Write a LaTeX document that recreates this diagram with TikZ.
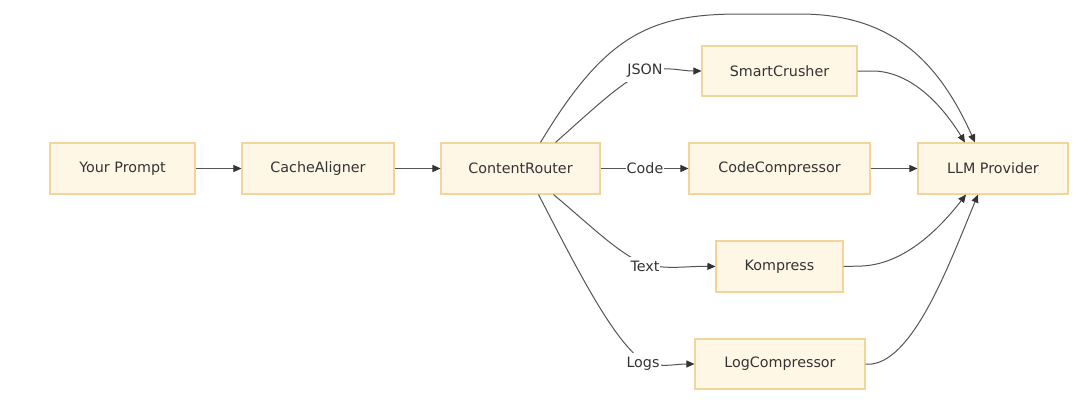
\documentclass[tikz,border=0pt]{standalone}
\usepackage{fontspec}
\setmainfont{DejaVu Sans}
\usetikzlibrary{arrows.meta,calc}
\definecolor{boxfill}{HTML}{FFF7E6}
\definecolor{boxline}{HTML}{F2D49C}
\definecolor{txt}{HTML}{333333}
\definecolor{edge}{HTML}{555555}
\begin{document}
\begin{tikzpicture}[x=1pt,y=-1pt,
  box/.style={draw=boxline,fill=boxfill,line width=1.1pt,inner sep=0pt,minimum height=51pt,text=txt,font=\fontsize{14.3}{17}\selectfont},
  conn/.style={draw=edge,line width=1pt,-{Triangle[length=8pt,width=7pt,color=txt]}},
  lbl/.style={fill=white,inner xsep=1pt,inner ysep=4pt,text=txt,font=\fontsize{14.3}{17}\selectfont}]
\useasboundingbox (0,0) rectangle (1080,416);
\fill[white] (0,0) rectangle (1080,416);
\node[box,minimum width=145pt] (prompt) at (122.5,168.5) {Your Prompt};
\node[box,minimum width=152pt] (cache) at (318,168.5) {CacheAligner};
\node[box,minimum width=159pt] (router) at (520.5,168.5) {ContentRouter};
\node[box,minimum width=155pt,minimum height=50pt] (smart) at (779.5,71) {SmartCrusher};
\node[box,minimum width=181pt] (code) at (779.5,168.5) {CodeCompressor};
\node[box,minimum width=150pt] (llm) at (993,168.5) {LLM Provider};
\node[box,minimum width=127pt] (komp) at (779.5,266.5) {Kompress};
\node[box,minimum width=170pt,minimum height=50pt] (logc) at (780,364) {LogCompressor};

\coordinate (rT1) at ($(router.north)+(20,0)$);
\coordinate (rT2) at ($(router.north)+(35,0)$);
\coordinate (rB1) at ($(router.south)+(33,0)$);
\coordinate (rB2) at ($(router.south)+(18,0)$);
\coordinate (lT1) at ($(llm.north)+(-28,0)$);
\coordinate (lT2) at ($(llm.north)+(-18,0)$);
\coordinate (lB1) at ($(llm.south)+(-27,0)$);
\coordinate (lB2) at ($(llm.south)+(-15,0)$);

\draw[conn] (prompt) -- (cache);
\draw[conn] (cache) -- (router);
\draw[conn] (router) -- (code);
\draw[conn] (code) -- (llm);

\draw[conn] (rT2) .. controls (590,112) and (625,78) .. (648,71) .. controls (668,66) and (680,71) .. (smart.west);
\draw[conn] (rT1) .. controls (605,35) and (650,14) .. (740,14) -- (800,14) .. controls (895,14) and (940,65) .. (lT2);
\draw[conn] (smart.east) -- (875,71) .. controls (915,73) and (945,110) .. (lT1);
\draw[conn] (rB1) .. controls (590,225) and (620,255) .. (645,264) .. controls (668,270) and (685,266) .. (komp.west);
\draw[conn] (rB2) .. controls (575,265) and (615,345) .. (645,362) .. controls (662,368) and (675,364) .. (logc.west);
\draw[conn] (komp.east) -- (862,266) .. controls (905,264) and (940,228) .. (lB1);
\draw[conn] (logc.east) -- (872,364) .. controls (915,358) and (950,262) .. (lB2);

\node[lbl] (ljson) at (645,71) {JSON};
\node[lbl] (lcode) at (645,168.5) {Code};
\node[lbl] (ltext) at (645,266) {Text};
\node[lbl] (llogs) at (643,364) {Logs};
\end{tikzpicture}
\end{document}
